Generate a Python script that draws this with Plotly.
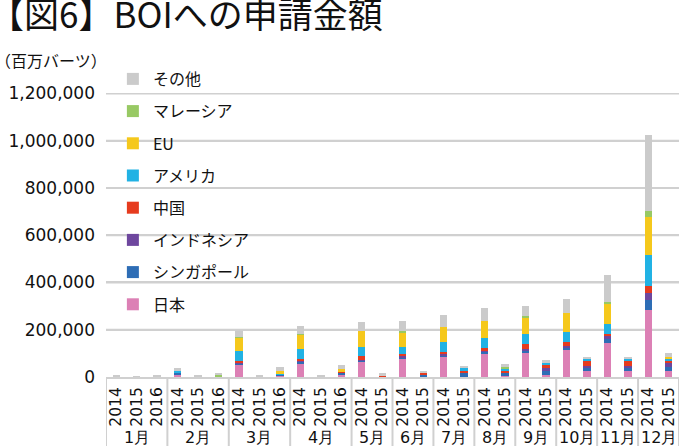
import plotly.graph_objects as go

months = ["1月"] * 3 + ["2月"] * 3 + ["3月"] * 3 + ["4月"] * 3 + \
    [m for m in ["5月", "6月", "7月", "8月", "9月", "10月", "11月", "12月"] for _ in range(2)]
years = ["2014", "2015", "2016"] * 4 + ["2014", "2015"] * 8

japan =     [0, 0, 0, 11000, 0, 0, 51000, 0, 7000, 58000, 0, 10000, 67000, 0, 78000, 0, 87000, 0, 96000, 8000, 103000, 10000, 113000, 24000, 145000, 25000, 285000, 25000]
singapore = [0, 0, 0, 5000, 0, 0, 6000, 0, 5000, 7000, 0, 7000, 3000, 0, 3000, 7000, 6000, 16000, 11000, 8000, 11000, 14000, 12000, 18000, 20000, 16000, 42000, 17000]
indonesia = [0, 0, 0, 0, 0, 0, 4000, 0, 0, 4000, 0, 1000, 2000, 0, 6000, 0, 4000, 0, 7000, 0, 6000, 15000, 5000, 6000, 7000, 6000, 28000, 15500]
china =     [0, 0, 0, 0, 0, 0, 7000, 0, 0, 8000, 0, 7000, 18000, 8000, 10000, 10000, 10000, 10000, 7000, 10000, 18000, 10000, 17000, 18000, 10000, 20000, 32000, 10000]
america =   [0, 0, 0, 9000, 0, 0, 43000, 0, 4000, 40000, 0, 0, 35000, 0, 31000, 0, 43000, 10000, 44000, 8000, 42000, 10000, 44000, 8500, 42000, 8500, 131000, 8500]
eu =        [0, 0, 0, 0, 0, 0, 57000, 0, 8000, 61000, 0, 8000, 69000, 0, 61000, 0, 61000, 0, 71000, 0, 72000, 0, 78000, 0, 87000, 0, 158000, 8500]
malaysia =  [0, 0, 0, 0, 0, 8500, 3000, 0, 0, 3000, 0, 0, 0, 0, 4000, 0, 0, 0, 0, 8000, 8000, 0, 0, 0, 8500, 0, 28000, 0]
other =     [6000, 1500, 6000, 15000, 6000, 8000, 26000, 6000, 18000, 35000, 6000, 19000, 37000, 7000, 45000, 8000, 52000, 10000, 54000, 11000, 42000, 11000, 62000, 11000, 114000, 11000, 321000, 18000]

series_names = ["日本", "シンガポール", "インドネシア", "中国", "アメリカ", "EU", "マレーシア", "その他"]
series_values = [japan, singapore, indonesia, china, america, eu, malaysia, other]
series_colors = ["#dc80b5", "#2e6db5", "#6e479e", "#e63b1e", "#21b2e4", "#f5c81c", "#98c964", "#cbcbcb"]

y_ticks = [0, 200000, 400000, 600000, 800000, 1000000, 1200000]

FONT = "Noto Sans CJK JP"
NUMFONT = "DejaVu Sans"
W, H = 680, 446
M_L, M_R, M_T, M_B = 106, 1, 93, 69
LINE = "#d0d0d0"
BARGAP = 0.64

xpos = list(range(len(years)))
totals = [sum(s[i] for s in series_values) for i in xpos]

# month groups: first/last index of each month
groups = []
for i, m in enumerate(months):
    if not groups or groups[-1][0] != m:
        groups.append([m, i, i])
    else:
        groups[-1][2] = i

fig = go.Figure()
n = len(series_names)
for k, (name, vals, col) in enumerate(zip(series_names, series_values, series_colors)):
    fig.add_trace(go.Bar(
        x=xpos, y=vals, name=name, legendgroup=name, legendrank=100 + (n - k),
        marker=dict(color=col, line=dict(width=0)),
    ))

shapes = []
# horizontal grid lines at the y tick values, drawn on top but interrupted where a bar covers them
hw = (1 - BARGAP) / 2
for v in y_ticks[1:]:
    start = -0.5
    for i in xpos:
        if totals[i] >= v:
            shapes.append(dict(type="line", xref="x", yref="y", x0=start, x1=i - hw,
                               y0=v, y1=v, line=dict(color=LINE, width=2), layer="above"))
            start = i + hw
    shapes.append(dict(type="line", xref="x", yref="y", x0=start, x1=len(years) - 0.5,
                       y0=v, y1=v, line=dict(color=LINE, width=2), layer="above"))
# month dividers of the category table
bounds = [g[1] - 0.5 for g in groups] + [groups[-1][2] + 0.5]
for b in bounds:
    shapes.append(dict(type="line", xref="x", yref="paper", x0=b, x1=b,
                       y0=0, y1=-(M_B + 2) / (H - M_T - M_B),
                       line=dict(color=LINE, width=2), layer="above"))

annotations = [
    dict(text="【図6】BOIへの申請金額", xref="paper", yref="paper",
         x=0, y=1, xanchor="left", yanchor="top", xshift=-M_L - 13, yshift=M_T + 15,
         showarrow=False, font=dict(size=35, family=FONT, color="#111111")),
    dict(text="（百万バーツ）", xref="paper", yref="paper",
         x=0, y=1, xanchor="left", yanchor="top", xshift=-M_L - 7, yshift=M_T - 46,
         showarrow=False, font=dict(size=16, family=FONT, color="#111111")),
]
for m, i0, i1 in groups:
    annotations.append(dict(text=m, xref="x", yref="paper", x=(i0 + i1) / 2, y=0,
                            xanchor="center", yanchor="middle", yshift=-60,
                            showarrow=False, font=dict(size=16, family=NUMFONT, color="#111111")))

fig.update_layout(
    template="none",
    width=W, height=H,
    barmode="stack", bargap=BARGAP,
    paper_bgcolor="white", plot_bgcolor="rgba(0,0,0,0)",
    margin=dict(l=M_L, r=M_R, t=M_T, b=M_B, autoexpand=False),
    font=dict(family=FONT, color="#111111"),
    showlegend=True,
    legend=dict(
        traceorder="grouped", tracegroupgap=8.4,
        xref="container", yref="container", x=0.166, y=0.861,
        xanchor="left", yanchor="top", maxheight=420,
        font=dict(size=16, family=FONT, color="#111111"),
        bgcolor="rgba(0,0,0,0)", borderwidth=0,
        itemwidth=30,
    ),
    shapes=shapes,
    annotations=annotations,
)
fig.update_yaxes(
    range=[0, 1202000], tickmode="array", tickvals=y_ticks, tickformat=",",
    showgrid=True, gridcolor=LINE, gridwidth=2,
    zeroline=False, showline=False, ticks="",
    ticklabelstandoff=10,
    tickfont=dict(size=17, family=NUMFONT, color="#111111"),
)
fig.update_xaxes(
    range=[-0.5, len(years) - 0.5],
    tickmode="array", tickvals=xpos, ticktext=years, tickangle=-90,
    showline=True, linecolor=LINE, linewidth=2,
    ticks="", showgrid=False, zeroline=False,
    ticklabelstandoff=2,
    tickfont=dict(size=15.5, family=NUMFONT, color="#111111"),
)

fig.write_html("out.html", config={"displayModeBar": False},
               post_script="document.body.style.margin='0';document.body.style.padding='0';")
